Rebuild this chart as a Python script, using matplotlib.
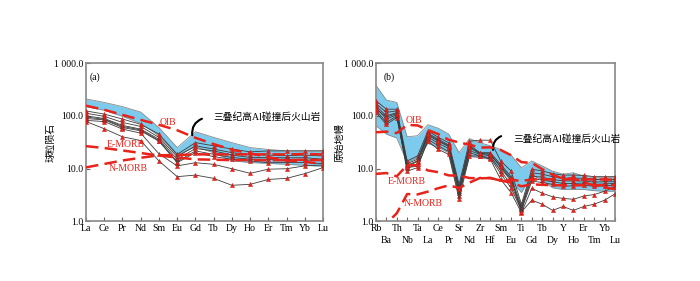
import numpy as np
import matplotlib
matplotlib.use("Agg")
import matplotlib.pyplot as plt
from matplotlib.ticker import FixedLocator, FixedFormatter

plt.rcParams['font.family'] = ['Liberation Serif', 'Noto Sans CJK SC']

# ---- (a) chondrite normalised REE ----
ree = ['La', 'Ce', 'Pr', 'Nd', 'Sm', 'Eu', 'Gd', 'Tb', 'Dy', 'Ho', 'Er', 'Tm', 'Yb', 'Lu']

ree_samples = [
    [124, 108, 87, 69, 45, 18.6, 31, 27, 23.4, 20.7, 21.6, 21.6, 21.6, 21.6],
    [112, 98, 75, 63, 39, 16.8, 27, 23.4, 20, 18.6, 18, 17.5, 18, 17.3],
    [100, 89, 66, 56, 36, 15, 24, 21.6, 18, 16.2, 16.2, 16, 16, 15],
    [95, 86, 63, 54, 34, 13.5, 21.6, 18.6, 16.2, 15, 15, 15, 14.5, 14.3],
    [89, 84, 60, 52, 33, 12.9, 20, 16.8, 15, 13.9, 12.9, 13, 13, 12.4],
    [82, 78, 56, 47, 19, 11.2, 12.9, 12, 9.9, 8.1, 9.7, 9.9, 11.2, 11.7],
    [78, 57, 40, 34, 13.9, 7.0, 7.5, 6.5, 4.8, 5.0, 6.2, 6.5, 8.0, 10.4],
]
ree_band_hi = [210, 180, 150, 118, 60, 25, 50, 39, 31, 25, 23, 21.6, 21.6, 21.6]
ree_band_lo = [150, 128, 98, 72, 42, 18, 26, 20, 14, 13, 12.5, 12, 11.5, 11]

ree_oib = [156, 130.5, 104.5, 84, 67.6, 53.3, 38.3, 29.1, 22.8, 19.4, 16.4, 14.2, 13.4, 12.2]
ree_emorb = [26.6, 24.5, 22, 19.7, 17.6, 16.2, 14.9, 14.7, 14.4, 14.5, 14.4, 14.4, 14.7, 14.4]
ree_nmorb = [10.5, 12.2, 14.2, 16, 17.8, 18.1, 18.5, 18.6, 18.5, 18.5, 18.6, 18.5, 18.9, 18.5]

# ---- (b) primitive mantle normalised trace elements ----
te = ['Rb', 'Ba', 'Th', 'Nb', 'Ta', 'La', 'Ce', 'Pr', 'Sr', 'Nd', 'Zr', 'Hf',
      'Sm', 'Eu', 'Ti', 'Gd', 'Tb', 'Dy', 'Y', 'Ho', 'Er', 'Tm', 'Yb', 'Lu']

te_samples = [
    [193, 134, 134, 13.9, 17.3, 52, 39, 31, 5.0, 33, 34.5, 34.5, 13.9, 9.0, 2.1, 9.7, 9.0, 8.0, 7.5, 7.5, 7.4, 7.0, 7.0, 7.0],
    [171, 116, 125, 12.3, 15, 47, 36, 28, 4.3, 28, 20, 20, 12, 7.0, 1.9, 8.3, 7.8, 7.0, 6.5, 6.6, 6.5, 6.2, 6.2, 6.2],
    [155, 100, 115, 11.1, 13.5, 43, 33, 26, 3.8, 25, 19, 19, 10.5, 6.0, 1.8, 7.2, 6.8, 6.2, 5.8, 5.8, 5.8, 5.5, 5.6, 5.6],
    [144, 87, 105, 10.1, 12, 40, 30, 24, 3.4, 22, 18.5, 17.5, 9.0, 5.0, 1.7, 6.5, 6.0, 5.6, 5.2, 5.2, 5.3, 5.0, 5.1, 5.2],
    [129, 75, 100, 8.9, 10.4, 36, 27, 21, 3.0, 20, 17.3, 16, 8.0, 4.3, 1.6, 5.8, 5.4, 5.0, 4.6, 4.7, 4.8, 4.6, 4.7, 4.8],
    [116, 69, 93, 10.5, 11, 33, 23, 18.6, 2.6, 17.3, 17.3, 15, 6.2, 3.5, 1.44, 4.2, 3.4, 2.9, 2.7, 2.6, 3.0, 3.2, 3.7, 4.5],
    [135, 95, 110, 11.5, 14, 45, 34, 27, 4.0, 26, 19.5, 18.5, 11, 6.5, 1.5, 2.5, 2.1, 1.6, 1.9, 1.6, 1.9, 2.1, 2.5, 3.3],
]
te_band_hi = [380, 200, 180, 40, 42, 68, 58, 45, 20, 37, 31, 27, 23, 18, 10.4, 13.9, 11.2, 8.9, 7.8, 8.3, 7.2, 6.7, 6.7, 6.7]
te_band_lo = [65, 45, 38, 13, 16, 30, 25, 20, 3.5, 17, 16, 15, 10, 5.8, 3.5, 7.5, 6.0, 4.3, 4.0, 4.0, 4.0, 3.8, 3.7, 3.7]

te_oib = [48.8, 50.1, 47.1, 67.3, 65.9, 53.9, 45.1, 35.1, 31.3, 28.4, 25, 25.2,
          22.5, 17.9, 13.2, 12.8, 9.7, 7.6, 6.4, 6.5, 5.5, 4.7, 4.4, 4.05]
te_emorb = [7.9, 8.2, 7.1, 11.6, 11.5, 9.2, 8.5, 7.4, 7.3, 6.6, 6.5, 6.6,
            5.9, 5.4, 4.6, 5.0, 4.9, 4.8, 4.8, 4.8, 4.8, 4.8, 4.8, 4.8]
te_nmorb = [0.88, 0.90, 1.41, 3.27, 3.22, 3.64, 4.23, 4.78, 4.27, 5.39, 6.6, 6.6,
            5.9, 6.1, 5.8, 6.2, 6.2, 6.2, 6.2, 6.2, 6.2, 6.2, 6.2, 6.1]

band_col = '#7ccbec'
red = '#e8231b'

fig = plt.figure(figsize=(7, 2.81), dpi=100)
ax1 = fig.add_axes([0.1229, 0.213, 0.3386, 0.562])
ax2 = fig.add_axes([0.5371, 0.213, 0.3414, 0.562])


def draw(ax, names, samples, hi, lo, oib, emorb, nmorb):
    x = np.arange(len(names))
    ax.fill_between(x, lo, hi, color=band_col, zorder=1, lw=0)
    ax.plot(x, hi, color='#8a8a8a', lw=0.6, zorder=1)
    ax.plot(x, lo, color='#8a8a8a', lw=0.6, zorder=1)
    for s in samples:
        ax.plot(x, s, color='#3a3a3a', lw=0.6, marker='^', ms=3.0,
                mfc=red, mec='#c01510', mew=0.3, zorder=3)
    for ref in (oib, emorb, nmorb):
        ax.plot(x, ref, color=red, lw=1.8, ls=(0, (5, 2.5)), zorder=4)
    ax.set_yscale('log')
    ax.set_ylim(1, 1000)
    ax.set_xlim(0, len(names) - 1)
    ax.set_yticks([1, 10, 100, 1000])
    ax.set_yticklabels(['1.0', '10.0', '100.0', '1 000.0'], fontsize=7)
    ax.yaxis.set_minor_locator(matplotlib.ticker.NullLocator())
    ax.tick_params(which='both', direction='in', length=3, width=0.8,
                   color='#666666', pad=2, labelsize=7)
    ax.yaxis.set_label_coords(-0.13, 0.5)
    for sp in ax.spines.values():
        sp.set_color('#888888')
        sp.set_linewidth(1.2)
    return x


draw(ax1, ree, ree_samples, ree_band_hi, ree_band_lo, ree_oib, ree_emorb, ree_nmorb)
ax1.set_xticks(np.arange(len(ree)))
ax1.set_xticklabels(ree, fontsize=7)
ax1.set_ylabel('球粒陨石', fontsize=7)
ax1.text(0.2, 480, '(a)', fontsize=7)
ax1.text(4.5, 75, 'OIB', color=red, fontsize=7, ha='center', va='center')
ax1.text(2.15, 28, 'E-MORB', color=red, fontsize=7, ha='center', va='center')
ax1.text(2.3, 10, 'N-MORB', color=red, fontsize=7, ha='center', va='center')
ax1.text(7.0, 95, '三叠纪高Al碰撞后火山岩', fontsize=7, ha='left', va='center')
ax1.annotate('', xy=(5.85, 38), xytext=(6.5, 92),
             arrowprops=dict(arrowstyle='-', lw=1.5, color='black',
                             connectionstyle='arc3,rad=0.45'))

draw(ax2, te, te_samples, te_band_hi, te_band_lo, te_oib, te_emorb, te_nmorb)
even = np.arange(0, len(te), 2)
odd = np.arange(1, len(te), 2)
ax2.xaxis.set_major_locator(FixedLocator(even))
ax2.xaxis.set_major_formatter(FixedFormatter([te[i] for i in even]))
ax2.xaxis.set_minor_locator(FixedLocator(odd))
ax2.xaxis.set_minor_formatter(FixedFormatter([te[i] for i in odd]))
ax2.tick_params(axis='x', which='minor', pad=11)
ax2.set_ylabel('原始地幔', fontsize=7)
ax2.text(0.7, 480, '(b)', fontsize=7)
ax2.text(3.7, 80, 'OIB', color=red, fontsize=7, ha='center', va='center')
ax2.text(3.0, 5.7, 'E-MORB', color=red, fontsize=7, ha='center', va='center')
ax2.text(4.5, 2.2, 'N-MORB', color=red, fontsize=7, ha='center', va='center')
ax2.text(13.2, 36, '三叠纪高Al碰撞后火山岩', fontsize=7, ha='left', va='center')
ax2.annotate('', xy=(11.3, 20), xytext=(12.3, 43),
             arrowprops=dict(arrowstyle='-', lw=1.5, color='black',
                             connectionstyle='arc3,rad=0.45'))

fig.savefig('out.png', dpi=100)
